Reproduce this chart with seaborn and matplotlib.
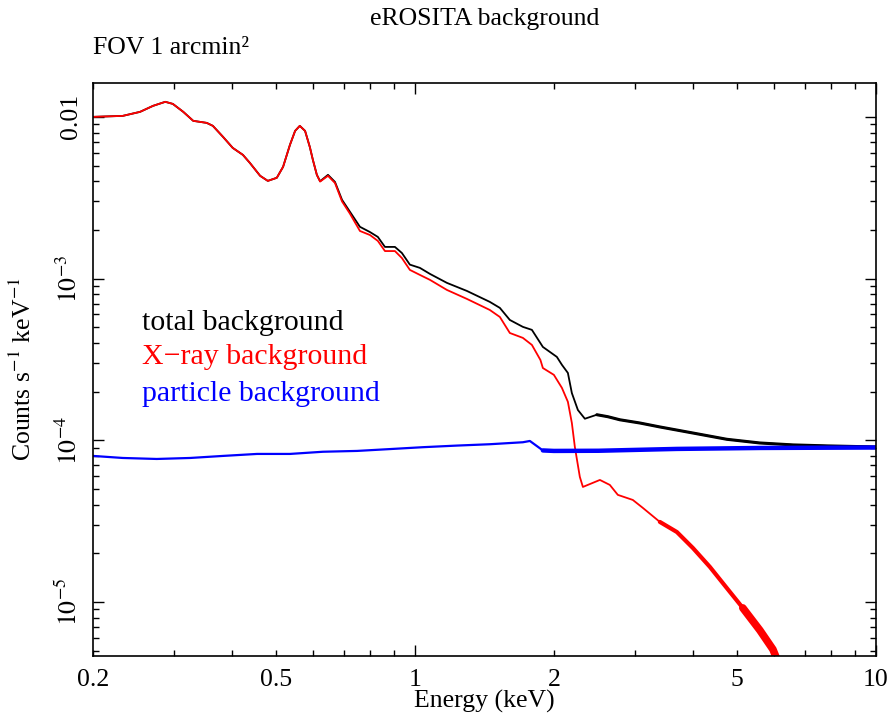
"""
eROSITA background spectrum: total, X-ray and particle components.
"""

import matplotlib

matplotlib.use("Agg")
import matplotlib.pyplot as plt
import matplotlib.ticker as mticker
import numpy as np
import pandas as pd
import seaborn as sns

# --- data (keV, counts s^-1 keV^-1) ---
total_energy = [0.200, 0.232, 0.253, 0.270, 0.287, 0.298, 0.314, 0.330, 0.353, 0.364,
                0.383, 0.402, 0.423, 0.438, 0.461, 0.479, 0.501, 0.517, 0.535, 0.549,
                0.562, 0.577, 0.591, 0.600, 0.612, 0.622, 0.647, 0.670, 0.694, 0.722,
                0.759, 0.798, 0.830, 0.860, 0.904, 0.936, 0.974, 1.024, 1.077, 1.172,
                1.295, 1.452, 1.527, 1.605, 1.713, 1.792, 1.893, 2.030, 2.082, 2.145,
                2.188, 2.255, 2.335, 2.479, 2.619, 2.781, 3.073, 3.396, 4.005, 4.746,
                5.596, 6.600, 7.820, 10.00]
total_rate = [0.0100, 0.01014, 0.01074, 0.01170, 0.01239, 0.01203, 0.01074, 0.00945, 0.00918, 0.00880,
              0.00752, 0.00643, 0.00582, 0.00519, 0.00432, 0.00402, 0.00420, 0.00491, 0.00671, 0.00819,
              0.00880, 0.00819, 0.00650, 0.00542, 0.00438, 0.00400, 0.00438, 0.00396, 0.00307, 0.00259,
              0.00209, 0.00194, 0.00181, 0.00157, 0.00157, 0.00144, 0.00122, 0.001165, 0.001069, 0.000941,
              0.000839, 0.000718, 0.000659, 0.000555, 0.000503, 0.000482, 0.000378, 0.000328, 0.000293, 0.000261,
              0.000196, 0.000154, 0.000136, 0.000144, 0.000140, 0.000134, 0.000128, 0.000121, 0.000111, 0.0001015,
              0.0000963, 0.0000937, 0.0000924, 0.0000910]

xray_energy = [0.200, 0.232, 0.253, 0.270, 0.287, 0.298, 0.314, 0.330, 0.353, 0.364,
               0.383, 0.402, 0.423, 0.438, 0.461, 0.479, 0.501, 0.517, 0.535, 0.549,
               0.562, 0.577, 0.591, 0.600, 0.612, 0.622, 0.647, 0.670, 0.694, 0.722,
               0.759, 0.798, 0.830, 0.860, 0.904, 0.936, 0.974, 1.024, 1.077, 1.172,
               1.295, 1.452, 1.527, 1.605, 1.713, 1.792, 1.870, 1.893, 2.000, 2.082,
               2.145, 2.188, 2.221, 2.277, 2.312, 2.517, 2.645, 2.753, 2.967, 3.120,
               3.396, 3.698, 4.005, 4.360, 4.746, 5.140, 5.596, 5.974, 6.100]
xray_rate = [0.0100, 0.01014, 0.01074, 0.01170, 0.01239, 0.01203, 0.01074, 0.00945, 0.00918, 0.00880,
             0.00752, 0.00643, 0.00582, 0.00519, 0.00432, 0.00402, 0.00420, 0.00491, 0.00671, 0.00819,
             0.00880, 0.00819, 0.00650, 0.00542, 0.00438, 0.00398, 0.00432, 0.00390, 0.00300, 0.00252,
             0.00197, 0.00186, 0.00171, 0.00148, 0.00148, 0.00134, 0.001132, 0.001054, 0.000982, 0.000851,
             0.000749, 0.000640, 0.000579, 0.000461, 0.000430, 0.000389, 0.000314, 0.000280, 0.000254, 0.000211,
             0.000173, 0.000128, 0.0000910, 0.0000594, 0.0000515, 0.0000569, 0.0000530, 0.0000460, 0.0000428, 0.0000382,
             0.0000313, 0.0000271, 0.0000216, 0.0000165, 0.0000122, 0.0000092, 0.0000067, 0.0000051, 0.0000044]

particle_energy = [0.200, 0.232, 0.275, 0.325, 0.383, 0.454, 0.535, 0.631, 0.748, 0.882,
                   1.040, 1.232, 1.452, 1.713, 1.774, 1.893, 2.000, 2.500, 3.700, 5.600, 10.00]
particle_rate = [8.01e-5, 7.78e-5, 7.67e-5, 7.78e-5, 8.01e-5, 8.24e-5, 8.24e-5, 8.50e-5, 8.60e-5, 8.83e-5,
                 9.07e-5, 9.28e-5, 9.46e-5, 9.73e-5, 9.91e-5, 8.66e-5, 8.60e-5, 8.62e-5, 8.85e-5, 8.97e-5,
                 9.03e-5]

x_tick_labels = ["0.2", "0.5", "1", "2", "5", "10"]
y_tick_labels = ["$10^{-5}$", "$10^{-4}$", "$10^{-3}$", "0.01"]


def _line(ax, df, color, lw):
    sns.lineplot(data=df, x="energy", y="rate", ax=ax, color=color, lw=lw,
                 sort=False, estimator=None)


def main() -> None:
    sns.set_theme(style="ticks", rc={"text.color": "black", "axes.labelcolor": "black",
                                     "xtick.color": "black", "ytick.color": "black"})
    plt.rcParams["font.family"] = ["Liberation Serif", "DejaVu Serif"]
    plt.rcParams["mathtext.fontset"] = "stix"

    total = pd.DataFrame({"energy": total_energy, "rate": total_rate})
    xray = pd.DataFrame({"energy": xray_energy, "rate": xray_rate})
    particle = pd.DataFrame({"energy": particle_energy, "rate": particle_rate})

    fig = plt.figure(figsize=(8.89, 7.16), dpi=100)
    ax = fig.add_axes([0.1046, 0.0838, 0.8808, 0.8003])

    _line(ax, total, "black", 1.3)
    _line(ax, total[total["energy"] > 2.4], "black", 2.2)
    _line(ax, xray, "red", 1.3)
    _line(ax, xray[xray["energy"] > 3.3], "red", 3.0)
    _line(ax, xray[xray["energy"] > 4.9], "red", 5.5)
    _line(ax, particle, "blue", 1.6)
    _line(ax, particle[particle["energy"] > 1.8], "blue", 3.2)

    ax.set_xscale("log")
    ax.set_yscale("log")
    ax.set_xlim(0.2, 10)
    ax.set_ylim(4.64e-6, 0.0162)

    # x ticks: decades long, others short but labelled
    ax.xaxis.set_major_locator(mticker.FixedLocator([1, 10]))
    ax.xaxis.set_major_formatter(mticker.NullFormatter())
    x_minor = [0.2, 0.3, 0.4, 0.5, 0.6, 0.7, 0.8, 0.9, 2, 3, 4, 5, 6, 7, 8, 9]
    ax.xaxis.set_minor_locator(mticker.FixedLocator(x_minor))
    ax.xaxis.set_minor_formatter(mticker.NullFormatter())
    label_pos = [0.2, 0.5, 1, 2, 5, 10]
    for pos, lab in zip(label_pos, x_tick_labels):
        ax.text(pos, -0.022, lab, transform=ax.get_xaxis_transform(), ha="center", va="top",
                fontsize=18.5)

    ax.yaxis.set_major_locator(mticker.FixedLocator([1e-5, 1e-4, 1e-3, 1e-2]))
    ax.yaxis.set_major_formatter(mticker.FixedFormatter(y_tick_labels))
    ax.yaxis.set_minor_locator(mticker.LogLocator(base=10, subs=np.arange(2, 10)))
    ax.yaxis.set_minor_formatter(mticker.NullFormatter())
    for lab in ax.get_yticklabels():
        lab.set_rotation(90)
        lab.set_va("center")
        lab.set_fontsize(18.5)

    ax.tick_params(which="both", direction="in", top=True, right=True, colors="black", width=1.0)
    ax.tick_params(which="major", length=8)
    ax.tick_params(which="minor", length=4.3)
    ax.tick_params(axis="y", which="major", pad=8)
    for spine in ax.spines.values():
        spine.set_linewidth(1.2)
        spine.set_color("black")

    ax.set_xlabel("Energy (keV)", fontsize=18.5, labelpad=21)
    ax.set_ylabel("Counts s$^{-1}$ keV$^{-1}$", fontsize=18.5, labelpad=14)

    ax.text(0.0626, 0.581, "total background", transform=ax.transAxes, color="black",
            fontsize=21.5, va="center")
    ax.text(0.0626, 0.522, "X\u2212ray background", transform=ax.transAxes, color="red",
            fontsize=21.5, va="center")
    ax.text(0.0626, 0.457, "particle background", transform=ax.transAxes, color="blue",
            fontsize=21.5, va="center")

    fig.text(0.545, 0.973, "eROSITA background", ha="center", va="center", fontsize=18.5)
    fig.text(0.1046, 0.933, "FOV 1 arcmin\u00b2", ha="left", va="center", fontsize=18.5)

    fig.savefig("out.png", dpi=100)


if __name__ == "__main__":
    main()
